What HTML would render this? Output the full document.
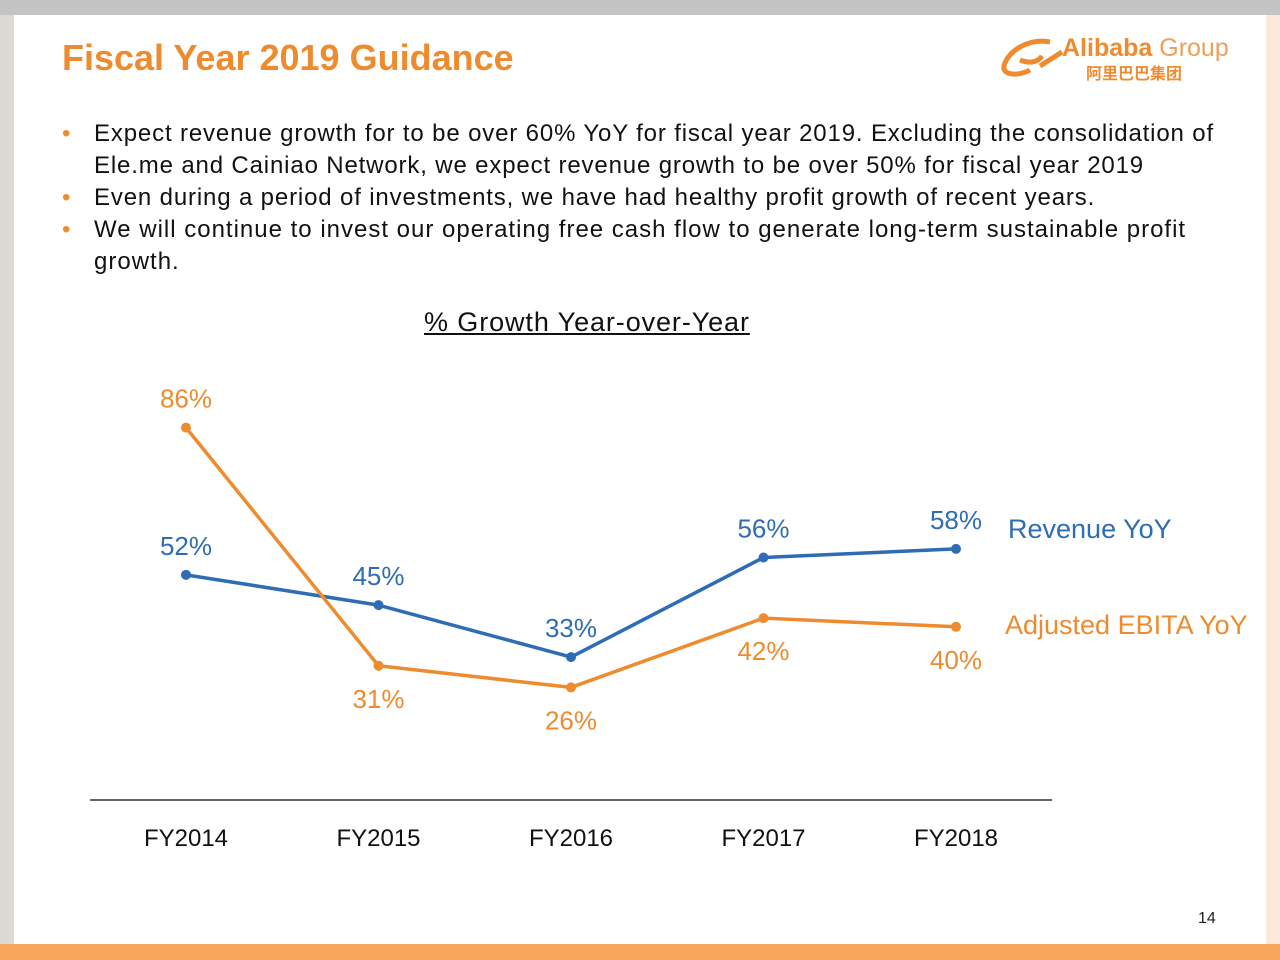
<!DOCTYPE html>
<html><head><meta charset="utf-8">
<style>
body{margin:0;width:1280px;height:960px;position:relative;background:#fff;font-family:"Liberation Sans","Noto Sans CJK SC",sans-serif;overflow:hidden}
.abs{position:absolute}
ul{margin:0;padding:0;list-style:none}
li{position:relative;padding-left:32px;font-size:24px;line-height:32px;color:#111;white-space:nowrap;letter-spacing:0.85px}
li:before{content:"•";position:absolute;left:0;color:#ed8b2e}
</style></head><body>
<div class="abs" style="left:0;top:0;width:1280px;height:15px;background:#c4c4c4"></div>
<div class="abs" style="left:0;top:15px;width:14px;height:930px;background:#dcd9d4"></div>
<div class="abs" style="left:1266px;top:15px;width:14px;height:930px;background:#fbe9dc"></div>
<div class="abs" style="left:0;top:944px;width:1280px;height:16px;background:#f6a55b"></div>
<div class="abs" style="left:62px;top:37px;font-size:36px;font-weight:bold;color:#ed8b2e">Fiscal Year 2019 Guidance</div>
<div class="abs" style="left:1000px;top:34px;width:250px;height:50px">
<svg width="70" height="45" style="position:absolute;left:0;top:2px"><path d="M50 6 C30 2 8 14 4 30 C2 40 20 40 30 34 M20 24 C30 28 38 26 42 20 M40 30 L62 16" stroke="#ed8b2e" stroke-width="5" fill="none"/></svg>
<div style="position:absolute;left:62px;top:0;font-size:25px;font-weight:bold;color:#ed8b2e">Alibaba<span style="font-weight:normal;color:#ee9f5a"> Group</span></div>
<div style="position:absolute;left:86px;top:26px;font-size:16px;color:#ed8b2e;font-weight:bold">阿里巴巴集团</div>
</div>
<ul class="abs" style="left:62px;top:118px;width:1170px">
<li>Expect revenue growth for to be over 60% YoY for fiscal year 2019. Excluding the consolidation of<br>Ele.me and Cainiao Network, we expect revenue growth to be over 50% for fiscal year 2019</li>
<li>Even during a period of investments, we have had healthy profit growth of recent years.</li>
<li style="letter-spacing:1px">We will continue to invest our operating free cash flow to generate long-term sustainable profit<br>growth.</li>
</ul>
<div class="abs" style="left:424px;top:307px;font-size:27px;text-decoration:underline;color:#111;letter-spacing:0.9px">% Growth Year-over-Year</div>
<svg class="abs" id="chart" style="left:0;top:0" width="1280" height="960"></svg>
<div class="abs" style="left:1198px;top:910px;font-size:16px;color:#222">14</div>
<script>
const categories=["FY2014","FY2015","FY2016","FY2017","FY2018"];
const revenue=[52,45,33,56,58];
const ebita=[86,31,26,42,40];
const revLabels=["52%","45%","33%","56%","58%"];
const ebitaLabels=["86%","31%","26%","42%","40%"];
const NS="http://www.w3.org/2000/svg";
const svg=document.getElementById('chart');
const xs=i=>186+i*192.5;
const ys=v=>800-v*4.33;
function mk(t,a){const e=document.createElementNS(NS,t);for(const k in a)e.setAttribute(k,a[k]);svg.appendChild(e);return e;}
const ax=mk('line',{x1:90,x2:1052,y1:800,y2:800,stroke:'#333','stroke-width':1.5});


categories.forEach((c,i)=>{const t=mk('text',{x:xs(i),y:846,'text-anchor':'middle','font-size':24,fill:'#111','font-family':'Liberation Sans'});t.textContent=c;

});
function series(vals,labels,col,name,below){
 const p=mk('polyline',{points:vals.map((v,i)=>xs(i)+','+ys(v)).join(' '),fill:'none',stroke:col,'stroke-width':3.5});
 
 
 vals.forEach((v,i)=>{const c=mk('circle',{cx:xs(i),cy:ys(v),r:5,fill:col});
  
  
  const b=below(i);
  const t=mk('text',{x:xs(i),y:ys(v)+(b?42:-20),'text-anchor':'middle','font-size':26,fill:col,'font-family':'Liberation Sans'});t.textContent=labels[i];
  
  });
}
series(revenue,revLabels,'#2e6db4','revenue',i=>false);
series(ebita,ebitaLabels,'#ed8b2e','ebita',i=>i>0);
const l1=mk('text',{x:1008,y:538,'font-size':27,fill:'#2e6db4','font-family':'Liberation Sans'});l1.textContent='Revenue YoY';


const l2=mk('text',{x:1005,y:634,'font-size':27,fill:'#ed8b2e','font-family':'Liberation Sans'});l2.textContent='Adjusted EBITA YoY';


</script>
</body></html>
